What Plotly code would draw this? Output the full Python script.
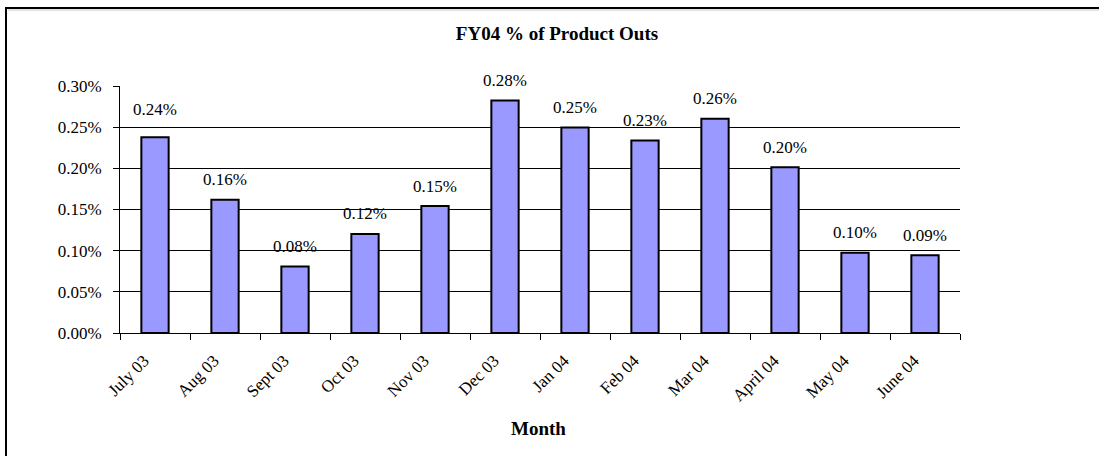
import plotly.graph_objects as go

months = ["July 03", "Aug 03", "Sept 03", "Oct 03", "Nov 03", "Dec 03",
          "Jan 04", "Feb 04", "Mar 04", "April 04", "May 04", "June 04"]
pct_outs = [0.2378, 0.1618, 0.0809, 0.1203, 0.1542, 0.2825,
            0.2496, 0.2337, 0.2602, 0.2012, 0.0976, 0.0945]
y_ticks = [0.00, 0.05, 0.10, 0.15, 0.20, 0.25, 0.30]
title_text = "FY04 % of Product Outs"
x_title = "Month"

FONT = "Liberation Serif, Times New Roman, serif"
W, H = 1099, 456
L, R, T, B = 120, 960, 86, 333  # plot area in pixels


def px_x(p):
    return (p - L) / (R - L)


def px_y(p):
    return (B - p) / (B - T)


fig = go.Figure()
fig.add_trace(go.Bar(
    x=months, y=pct_outs, width=0.39,
    marker=dict(color="#9999FF", line=dict(color="black", width=2)),
    hoverinfo="skip",
))

annotations = []
for i, (m, v) in enumerate(zip(months, pct_outs)):
    annotations.append(dict(
        x=m, y=v, xref="x", yref="y", text=f"{v:.2f}%",
        showarrow=False, yanchor="middle", yshift=28 if i == 0 else 20,
        font=dict(family=FONT, size=17, color="black"),
    ))
annotations.append(dict(
    x=px_x(538), y=px_y(428), xref="paper", yref="paper",
    text=f"<b>{x_title}</b>", showarrow=False, xanchor="center", yanchor="middle",
    font=dict(family=FONT, size=19, color="black"),
))

shapes = [
    # outer chart border (top and left visible)
    dict(type="line", xref="paper", yref="paper",
         x0=px_x(5), x1=px_x(1110), y0=px_y(8), y1=px_y(8),
         line=dict(color="black", width=2)),
    dict(type="line", xref="paper", yref="paper",
         x0=px_x(6), x1=px_x(6), y0=px_y(7), y1=px_y(470),
         line=dict(color="black", width=2)),
    dict(type="line", xref="paper", yref="paper",
         x0=px_x(8), x1=px_x(1110), y0=px_y(10), y1=px_y(10),
         line=dict(color="#c8c8c8", width=1)),
]

fig.update_layout(
    width=W, height=H,
    margin=dict(l=L, r=W - R, t=T, b=H - B, pad=0),
    paper_bgcolor="white", plot_bgcolor="white",
    showlegend=False,
    font=dict(family=FONT, size=17, color="black"),
    title=dict(text=f"<b>{title_text}</b>", x=557 / W, xanchor="center",
               y=1 - 33 / H, yanchor="middle", xref="container", yref="container",
               font=dict(family=FONT, size=19, color="black")),
    annotations=annotations,
    shapes=shapes,
    bargap=0.61,
)

fig.update_xaxes(
    type="category", showgrid=False, showline=True, linecolor="black", linewidth=1,
    ticks="outside", tickson="boundaries", ticklen=6, tickcolor="black", tickwidth=1,
    tickangle=-45, tickfont=dict(family=FONT, size=17, color="black"),
    ticklabelstandoff=10, ticklabelshift=-11,
    fixedrange=True,
)
fig.update_yaxes(
    range=[0, 0.30], tickvals=y_ticks, ticktext=[f"{t:.2f}%" for t in y_ticks],
    showgrid=True, gridcolor="black", gridwidth=1,
    showline=True, linecolor="black", linewidth=1, zeroline=False,
    ticks="outside", ticklen=6, tickcolor="black", tickwidth=1,
    ticklabelstandoff=8,
    tickfont=dict(family=FONT, size=17, color="black"),
    fixedrange=True,
)

fig.write_html("out.html", config={"displayModeBar": False},
               post_script="document.body.style.margin='0px';")
